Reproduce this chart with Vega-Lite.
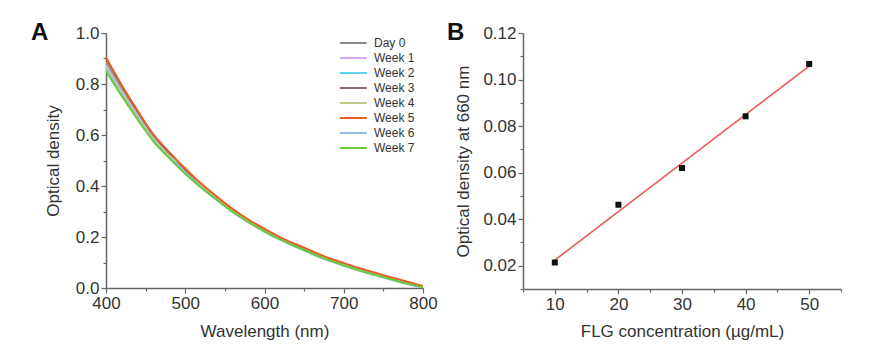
{
  "$schema": "https://vega.github.io/schema/vega-lite/v6.json",
  "padding": {"left": 31, "top": 21, "right": 5, "bottom": 5},
  "spacing": 100,
  "bounds": "flush",
  "config": {
    "view": {"stroke": null},
    "font": "Liberation Sans",
    "axis": {
      "grid": false,
      "labelFlush": false,
      "domainColor": "#666",
      "domainWidth": 1.5,
      "tickColor": "#666",
      "tickWidth": 1.2,
      "labelFont": "Liberation Sans",
      "labelFontSize": 17,
      "labelColor": "#333",
      "titleFont": "Liberation Sans",
      "titleFontSize": 17,
      "titleFontWeight": "normal",
      "titleColor": "#333"
    },
    "legend": {
      "labelFont": "Liberation Sans",
      "labelFontSize": 12,
      "labelColor": "#333",
      "labelOffset": 6,
      "symbolType": "M-3,0H1",
      "symbolSize": 182,
      "symbolStrokeWidth": 2,
      "rowPadding": 1
    }
  },
  "datasets": {
    "spectra": [
      {"s":"Day 0","wl":400,"od":0.885},{"s":"Day 0","wl":420,"od":0.780},{"s":"Day 0","wl":440,"od":0.683},{"s":"Day 0","wl":460,"od":0.592},{"s":"Day 0","wl":480,"od":0.523},{"s":"Day 0","wl":500,"od":0.459},{"s":"Day 0","wl":520,"od":0.402},{"s":"Day 0","wl":540,"od":0.352},{"s":"Day 0","wl":560,"od":0.303},{"s":"Day 0","wl":580,"od":0.263},{"s":"Day 0","wl":600,"od":0.226},{"s":"Day 0","wl":620,"od":0.193},{"s":"Day 0","wl":640,"od":0.165},{"s":"Day 0","wl":660,"od":0.138},{"s":"Day 0","wl":680,"od":0.113},{"s":"Day 0","wl":700,"od":0.092},{"s":"Day 0","wl":720,"od":0.072},{"s":"Day 0","wl":740,"od":0.054},{"s":"Day 0","wl":760,"od":0.037},{"s":"Day 0","wl":780,"od":0.020},{"s":"Day 0","wl":800,"od":0.004},
      {"s":"Week 1","wl":400,"od":0.875},{"s":"Week 1","wl":420,"od":0.772},{"s":"Week 1","wl":440,"od":0.677},{"s":"Week 1","wl":460,"od":0.587},{"s":"Week 1","wl":480,"od":0.518},{"s":"Week 1","wl":500,"od":0.455},{"s":"Week 1","wl":520,"od":0.399},{"s":"Week 1","wl":540,"od":0.350},{"s":"Week 1","wl":560,"od":0.301},{"s":"Week 1","wl":580,"od":0.261},{"s":"Week 1","wl":600,"od":0.224},{"s":"Week 1","wl":620,"od":0.192},{"s":"Week 1","wl":640,"od":0.164},{"s":"Week 1","wl":660,"od":0.137},{"s":"Week 1","wl":680,"od":0.112},{"s":"Week 1","wl":700,"od":0.091},{"s":"Week 1","wl":720,"od":0.071},{"s":"Week 1","wl":740,"od":0.053},{"s":"Week 1","wl":760,"od":0.036},{"s":"Week 1","wl":780,"od":0.019},{"s":"Week 1","wl":800,"od":0.003},
      {"s":"Week 2","wl":400,"od":0.865},{"s":"Week 2","wl":420,"od":0.762},{"s":"Week 2","wl":440,"od":0.668},{"s":"Week 2","wl":460,"od":0.580},{"s":"Week 2","wl":480,"od":0.513},{"s":"Week 2","wl":500,"od":0.451},{"s":"Week 2","wl":520,"od":0.396},{"s":"Week 2","wl":540,"od":0.347},{"s":"Week 2","wl":560,"od":0.299},{"s":"Week 2","wl":580,"od":0.259},{"s":"Week 2","wl":600,"od":0.222},{"s":"Week 2","wl":620,"od":0.190},{"s":"Week 2","wl":640,"od":0.162},{"s":"Week 2","wl":660,"od":0.135},{"s":"Week 2","wl":680,"od":0.110},{"s":"Week 2","wl":700,"od":0.089},{"s":"Week 2","wl":720,"od":0.069},{"s":"Week 2","wl":740,"od":0.051},{"s":"Week 2","wl":760,"od":0.034},{"s":"Week 2","wl":780,"od":0.017},{"s":"Week 2","wl":800,"od":0.002},
      {"s":"Week 3","wl":400,"od":0.900},{"s":"Week 3","wl":420,"od":0.792},{"s":"Week 3","wl":440,"od":0.692},{"s":"Week 3","wl":460,"od":0.599},{"s":"Week 3","wl":480,"od":0.528},{"s":"Week 3","wl":500,"od":0.465},{"s":"Week 3","wl":520,"od":0.407},{"s":"Week 3","wl":540,"od":0.356},{"s":"Week 3","wl":560,"od":0.306},{"s":"Week 3","wl":580,"od":0.266},{"s":"Week 3","wl":600,"od":0.229},{"s":"Week 3","wl":620,"od":0.196},{"s":"Week 3","wl":640,"od":0.168},{"s":"Week 3","wl":660,"od":0.141},{"s":"Week 3","wl":680,"od":0.116},{"s":"Week 3","wl":700,"od":0.095},{"s":"Week 3","wl":720,"od":0.075},{"s":"Week 3","wl":740,"od":0.057},{"s":"Week 3","wl":760,"od":0.040},{"s":"Week 3","wl":780,"od":0.023},{"s":"Week 3","wl":800,"od":0.006},
      {"s":"Week 4","wl":400,"od":0.870},{"s":"Week 4","wl":420,"od":0.768},{"s":"Week 4","wl":440,"od":0.673},{"s":"Week 4","wl":460,"od":0.585},{"s":"Week 4","wl":480,"od":0.518},{"s":"Week 4","wl":500,"od":0.473},{"s":"Week 4","wl":520,"od":0.404},{"s":"Week 4","wl":540,"od":0.351},{"s":"Week 4","wl":560,"od":0.302},{"s":"Week 4","wl":580,"od":0.262},{"s":"Week 4","wl":600,"od":0.225},{"s":"Week 4","wl":620,"od":0.192},{"s":"Week 4","wl":640,"od":0.164},{"s":"Week 4","wl":660,"od":0.137},{"s":"Week 4","wl":680,"od":0.112},{"s":"Week 4","wl":700,"od":0.091},{"s":"Week 4","wl":720,"od":0.071},{"s":"Week 4","wl":740,"od":0.053},{"s":"Week 4","wl":760,"od":0.036},{"s":"Week 4","wl":780,"od":0.019},{"s":"Week 4","wl":800,"od":0.004},
      {"s":"Week 5","wl":400,"od":0.905},{"s":"Week 5","wl":420,"od":0.795},{"s":"Week 5","wl":440,"od":0.695},{"s":"Week 5","wl":460,"od":0.602},{"s":"Week 5","wl":480,"od":0.533},{"s":"Week 5","wl":500,"od":0.467},{"s":"Week 5","wl":520,"od":0.410},{"s":"Week 5","wl":540,"od":0.358},{"s":"Week 5","wl":560,"od":0.310},{"s":"Week 5","wl":580,"od":0.268},{"s":"Week 5","wl":600,"od":0.232},{"s":"Week 5","wl":620,"od":0.199},{"s":"Week 5","wl":640,"od":0.171},{"s":"Week 5","wl":660,"od":0.145},{"s":"Week 5","wl":680,"od":0.119},{"s":"Week 5","wl":700,"od":0.098},{"s":"Week 5","wl":720,"od":0.078},{"s":"Week 5","wl":740,"od":0.060},{"s":"Week 5","wl":760,"od":0.042},{"s":"Week 5","wl":780,"od":0.025},{"s":"Week 5","wl":800,"od":0.008},
      {"s":"Week 6","wl":400,"od":0.860},{"s":"Week 6","wl":420,"od":0.758},{"s":"Week 6","wl":440,"od":0.665},{"s":"Week 6","wl":460,"od":0.577},{"s":"Week 6","wl":480,"od":0.510},{"s":"Week 6","wl":500,"od":0.449},{"s":"Week 6","wl":520,"od":0.394},{"s":"Week 6","wl":540,"od":0.345},{"s":"Week 6","wl":560,"od":0.297},{"s":"Week 6","wl":580,"od":0.257},{"s":"Week 6","wl":600,"od":0.220},{"s":"Week 6","wl":620,"od":0.188},{"s":"Week 6","wl":640,"od":0.160},{"s":"Week 6","wl":660,"od":0.133},{"s":"Week 6","wl":680,"od":0.108},{"s":"Week 6","wl":700,"od":0.087},{"s":"Week 6","wl":720,"od":0.067},{"s":"Week 6","wl":740,"od":0.049},{"s":"Week 6","wl":760,"od":0.032},{"s":"Week 6","wl":780,"od":0.015},{"s":"Week 6","wl":800,"od":0.001},
      {"s":"Week 7","wl":400,"od":0.850},{"s":"Week 7","wl":420,"od":0.752},{"s":"Week 7","wl":440,"od":0.660},{"s":"Week 7","wl":460,"od":0.574},{"s":"Week 7","wl":480,"od":0.508},{"s":"Week 7","wl":500,"od":0.448},{"s":"Week 7","wl":520,"od":0.394},{"s":"Week 7","wl":540,"od":0.345},{"s":"Week 7","wl":560,"od":0.298},{"s":"Week 7","wl":580,"od":0.258},{"s":"Week 7","wl":600,"od":0.222},{"s":"Week 7","wl":620,"od":0.190},{"s":"Week 7","wl":640,"od":0.162},{"s":"Week 7","wl":660,"od":0.135},{"s":"Week 7","wl":680,"od":0.110},{"s":"Week 7","wl":700,"od":0.089},{"s":"Week 7","wl":720,"od":0.069},{"s":"Week 7","wl":740,"od":0.051},{"s":"Week 7","wl":760,"od":0.034},{"s":"Week 7","wl":780,"od":0.017},{"s":"Week 7","wl":800,"od":0.003}
    ],
    "calib": [
      {"conc":10,"od":0.0214},{"conc":20,"od":0.0462},{"conc":30,"od":0.0620},{"conc":40,"od":0.0842},{"conc":50,"od":0.1067}
    ],
    "fit": [
      {"conc":10,"od":0.0224},{"conc":50,"od":0.1058}
    ]
  },
  "hconcat": [
    {
      "width": 317,
      "height": 255,
      "title": {"text": "A", "anchor": "start", "frame": "group", "fontSize": 24, "fontWeight": "bold", "color": "#111", "dx": -75, "dy": 25},
      "data": {"name": "spectra"},
      "mark": {"type": "line", "strokeWidth": 1.8, "clip": true, "interpolate": "monotone"},
      "encoding": {
        "x": {"field": "wl", "type": "quantitative", "scale": {"domain": [400, 800], "nice": false},
          "axis": {"title": "Wavelength (nm)", "values": [400,450,500,550,600,650,700,750,800],
            "labelExpr": "datum.value % 100 === 0 ? datum.label : ''",
            "tickSize": {"condition": {"test": "datum.value % 100 === 0", "value": 5}, "value": 3},
            "labelPadding": 2, "titlePadding": 12}},
        "y": {"field": "od", "type": "quantitative", "scale": {"domain": [0, 1], "nice": false},
          "axis": {"title": "Optical density", "values": [0,0.1,0.2,0.3,0.4,0.5,0.6,0.7,0.8,0.9,1.0], "format": ".1f",
            "labelExpr": "round(datum.value*10) % 2 === 0 ? datum.label : ''",
            "tickSize": {"condition": {"test": "round(datum.value*10) % 2 === 0", "value": 5}, "value": 3},
            "labelPadding": 2, "titlePadding": 13}},
        "color": {"field": "s", "type": "nominal",
          "scale": {"domain": ["Day 0","Week 1","Week 2","Week 3","Week 4","Week 5","Week 6","Week 7"],
                    "range": ["#8c8c8c","#d8a6f2","#56d6e6","#8a6a6a","#c2c98a","#ee5a24","#94bde8","#66cc33"]},
          "legend": {"title": null, "orient": "none", "legendX": 246, "legendY": 2}}
      }
    },
    {
      "width": 318,
      "height": 256,
      "title": {"text": "B", "anchor": "start", "frame": "group", "fontSize": 24, "fontWeight": "bold", "color": "#111", "dx": -76, "dy": 25},
      "encoding": {
        "x": {"field": "conc", "type": "quantitative", "scale": {"domain": [5, 55], "nice": false},
          "axis": {"title": "FLG concentration (µg/mL)", "values": [5,10,15,20,25,30,35,40,45,50,55],
            "labelExpr": "datum.value % 10 === 0 ? datum.label : ''",
            "tickSize": {"condition": {"test": "datum.value % 10 === 0", "value": 5}, "value": 3},
            "labelPadding": 2, "titlePadding": 11}},
        "y": {"field": "od", "type": "quantitative", "scale": {"domain": [0.01, 0.12], "nice": false},
          "axis": {"title": "Optical density at 660 nm", "values": [0.01,0.02,0.03,0.04,0.05,0.06,0.07,0.08,0.09,0.1,0.11,0.12], "format": ".2f",
            "labelExpr": "round(datum.value*100) % 2 === 0 ? datum.label : ''",
            "tickSize": {"condition": {"test": "round(datum.value*100) % 2 === 0", "value": 5}, "value": 3},
            "labelPadding": 2, "titlePadding": 10}}
      },
      "layer": [
        {
          "data": {"name": "fit"},
          "mark": {"type": "line", "color": "#f05a5a", "strokeWidth": 1.6}
        },
        {
          "data": {"name": "calib"},
          "mark": {"type": "point", "shape": "square", "filled": true, "color": "#111", "size": 36, "opacity": 1}
        }
      ]
    }
  ]
}
